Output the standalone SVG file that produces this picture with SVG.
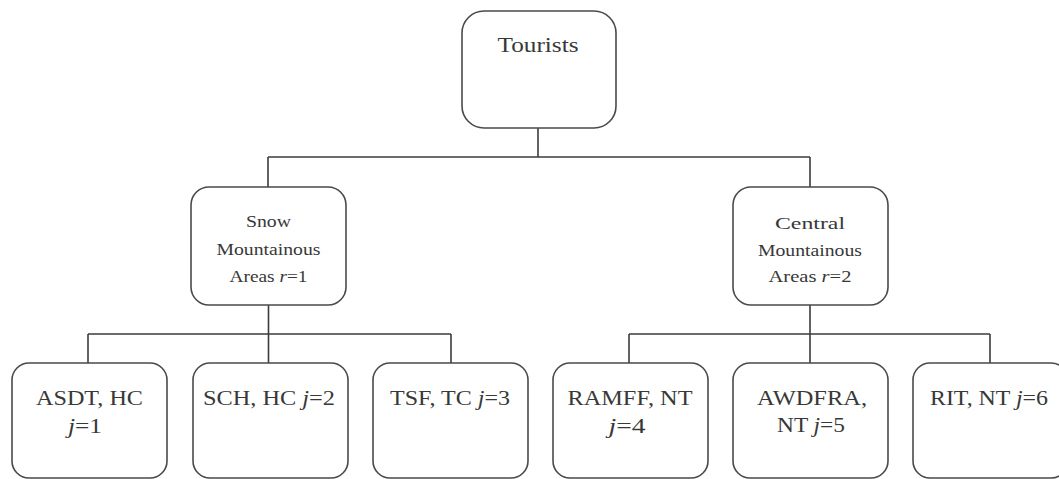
<svg xmlns="http://www.w3.org/2000/svg" width="1059" height="479" viewBox="0 0 1059 479">
<style>
.box{fill:#fff;stroke:#4a4a4a;stroke-width:1.6}
.ln{fill:none;stroke:#3c3c3c;stroke-width:1.6}
text{font-family:"Liberation Serif","Times New Roman",serif;fill:#383838;text-anchor:middle}
.t1{font-size:22px}
.t2{font-size:17px}
.t3{font-size:20px}
.i{font-style:italic}
</style>
<rect width="1059" height="479" fill="#fff"/>
<g id="connectors">
<path class="ln" d="M538 128V157M268 157H810M268 157V187M810 157V187"/>
<path class="ln" d="M268.5 305V334M88 334H451M88 334V363M268.5 334V363M451 334V363"/>
<path class="ln" d="M810 305V334M629 334H990M629 334V363M810 334V363M990 334V363"/>
</g>
<g id="tourists">
<rect class="box" x="462" y="11" width="154" height="117" rx="22"/>
<text class="t1" x="538" y="52" textLength="81" lengthAdjust="spacingAndGlyphs">Tourists</text>
</g>
<g id="snow">
<rect class="box" x="191" y="187" width="155" height="118" rx="18"/>
<text class="t2" x="268.5" y="227" textLength="45" lengthAdjust="spacingAndGlyphs">Snow</text>
<text class="t2" x="268.5" y="255" textLength="104" lengthAdjust="spacingAndGlyphs">Mountainous</text>
<text class="t2" x="268.5" y="282" textLength="78" lengthAdjust="spacingAndGlyphs">Areas <tspan class="i">r</tspan>=1</text>
</g>
<g id="central">
<rect class="box" x="733" y="187" width="155" height="118" rx="18"/>
<text class="t2" x="810" y="229" textLength="70" lengthAdjust="spacingAndGlyphs">Central</text>
<text class="t2" x="810" y="256" textLength="104" lengthAdjust="spacingAndGlyphs">Mountainous</text>
<text class="t2" x="810" y="282" textLength="83" lengthAdjust="spacingAndGlyphs">Areas <tspan class="i">r</tspan>=2</text>
</g>
<g id="j1">
<rect class="box" x="12" y="363" width="155" height="115" rx="17"/>
<text class="t3" x="89.5" y="405" textLength="107" lengthAdjust="spacingAndGlyphs">ASDT, HC</text>
<text class="t3" x="85" y="433" textLength="34" lengthAdjust="spacingAndGlyphs"><tspan class="i">j</tspan>=1</text>
</g>
<g id="j2">
<rect class="box" x="193" y="363" width="155" height="115" rx="17"/>
<text class="t3" x="269" y="405" textLength="132" lengthAdjust="spacingAndGlyphs">SCH, HC <tspan class="i">j</tspan>=2</text>
</g>
<g id="j3">
<rect class="box" x="373" y="363" width="155" height="115" rx="17"/>
<text class="t3" x="450" y="405" textLength="120" lengthAdjust="spacingAndGlyphs">TSF, TC <tspan class="i">j</tspan>=3</text>
</g>
<g id="j4">
<rect class="box" x="553" y="363" width="155" height="115" rx="17"/>
<text class="t3" x="630" y="405" textLength="125" lengthAdjust="spacingAndGlyphs">RAMFF, NT</text>
<text class="t3" x="627" y="433" textLength="37" lengthAdjust="spacingAndGlyphs"><tspan class="i">j</tspan>=4</text>
</g>
<g id="j5">
<rect class="box" x="733" y="363" width="155" height="115" rx="17"/>
<text class="t3" x="812" y="405" textLength="110" lengthAdjust="spacingAndGlyphs">AWDFRA,</text>
<text class="t3" x="811" y="432" textLength="68" lengthAdjust="spacingAndGlyphs">NT <tspan class="i">j</tspan>=5</text>
</g>
<g id="j6">
<rect class="box" x="913" y="363" width="155" height="115" rx="17"/>
<text class="t3" x="989" y="405" textLength="118" lengthAdjust="spacingAndGlyphs">RIT, NT <tspan class="i">j</tspan>=6</text>
</g>
</svg>
